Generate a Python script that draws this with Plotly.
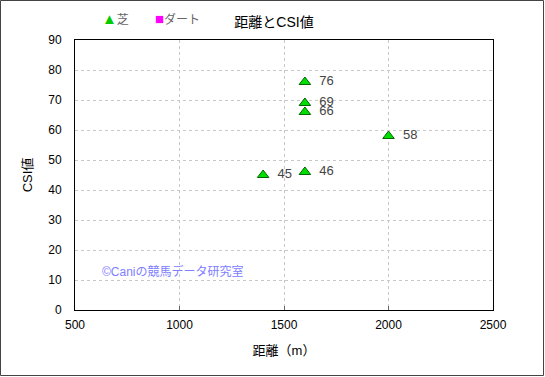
import plotly.graph_objects as go

turf_dist = [1400, 1600, 1600, 1600, 1600, 2000]
turf_csi = [45, 76, 69, 66, 46, 58]
turf_labels = ["45", "76", "69", "66", "46", "58"]
dirt_dist = []
dirt_csi = []

x_ticks = [500, 1000, 1500, 2000, 2500]
y_ticks = [0, 10, 20, 30, 40, 50, 60, 70, 80, 90]

W, H = 545, 377
ml, mr, mt, mb = 75, 52, 40, 67
pw, ph = W - ml - mr, H - mt - mb

font = "Liberation Sans, Noto Sans CJK JP, sans-serif"

fig = go.Figure()
fig.add_trace(go.Scatter(
    x=turf_dist, y=turf_csi, mode="markers+text", name="芝",
    text=turf_labels, textposition="middle right",
    texttemplate="&nbsp;&nbsp;%{text}",
    textfont=dict(size=13, color="#444444", family=font),
    marker=dict(symbol="triangle-up", size=10, color="#00dd00",
                line=dict(color="#006600", width=1)),
    showlegend=False, hoverinfo="skip",
))
fig.add_trace(go.Scatter(
    x=dirt_dist, y=dirt_csi, mode="markers", name="ダート",
    marker=dict(symbol="square", size=9, color="#ff00ff"),
    showlegend=False,
))

fig.update_layout(
    width=W, height=H,
    margin=dict(l=ml, r=mr, t=mt, b=mb, autoexpand=False),
    paper_bgcolor="white", plot_bgcolor="white",
    font=dict(family=font, size=12, color="black"),
    title=dict(text="距離とCSI値", x=274 / W, xanchor="center", y=1 - 22 / H, yanchor="middle",
               font=dict(size=14, color="black", family=font)),
    showlegend=False,
    xaxis=dict(range=[500, 2500], tickvals=x_ticks, ticks="inside", ticklen=4, tickcolor="#666",
               showgrid=True, gridcolor="#c8c8c8", griddash="dot", gridwidth=1,
               showline=True, linecolor="black", linewidth=1, mirror=True, zeroline=False,
               ticklabelstandoff=4,
               title=dict(text="距離（m）", font=dict(size=13), standoff=14),
               tickfont=dict(size=12)),
    yaxis=dict(range=[0, 90], tickvals=y_ticks, ticks="",
               showgrid=True, gridcolor="#c8c8c8", griddash="dot", gridwidth=1,
               showline=True, linecolor="black", linewidth=1, mirror=True, zeroline=False,
               ticklabelstandoff=10,
               title=dict(text="CSI値", font=dict(size=13), standoff=12),
               tickfont=dict(size=12)),
)

# legend drawn as annotations
fig.add_annotation(text="<span style='color:#00cc00;font-size:15px'>▲</span>芝", xref="paper", yref="paper",
                   x=(100 - ml) / pw, y=1 + (mt - 18) / ph, xanchor="left", yanchor="middle",
                   showarrow=False, font=dict(size=12, color="#666666", family=font))
fig.add_annotation(text="<span style='color:#ff00ff;font-size:15px'>■</span>ダート", xref="paper", yref="paper",
                   x=(153 - ml) / pw, y=1 + (mt - 18) / ph, xanchor="left", yanchor="middle",
                   showarrow=False, font=dict(size=12, color="#666666", family=font))

fig.add_annotation(text="©Caniの競馬データ研究室", xref="paper", yref="paper",
                   x=(100 - ml) / pw, y=(H - mb - 271) / ph, xanchor="left", yanchor="middle",
                   showarrow=False, font=dict(size=12, color="#8080ff", family=font))

fig.add_shape(type="rect", xref="paper", yref="paper",
              x0=-(ml - 0.5) / pw, x1=1 + (mr - 1.5) / pw,
              y0=-(mb - 1.5) / ph, y1=1 + (mt - 0.5) / ph,
              line=dict(color="#444444", width=1))

fig.write_html("out.html", config={"displayModeBar": False},
               post_script="document.body.style.margin='0';document.body.style.overflow='hidden';")
